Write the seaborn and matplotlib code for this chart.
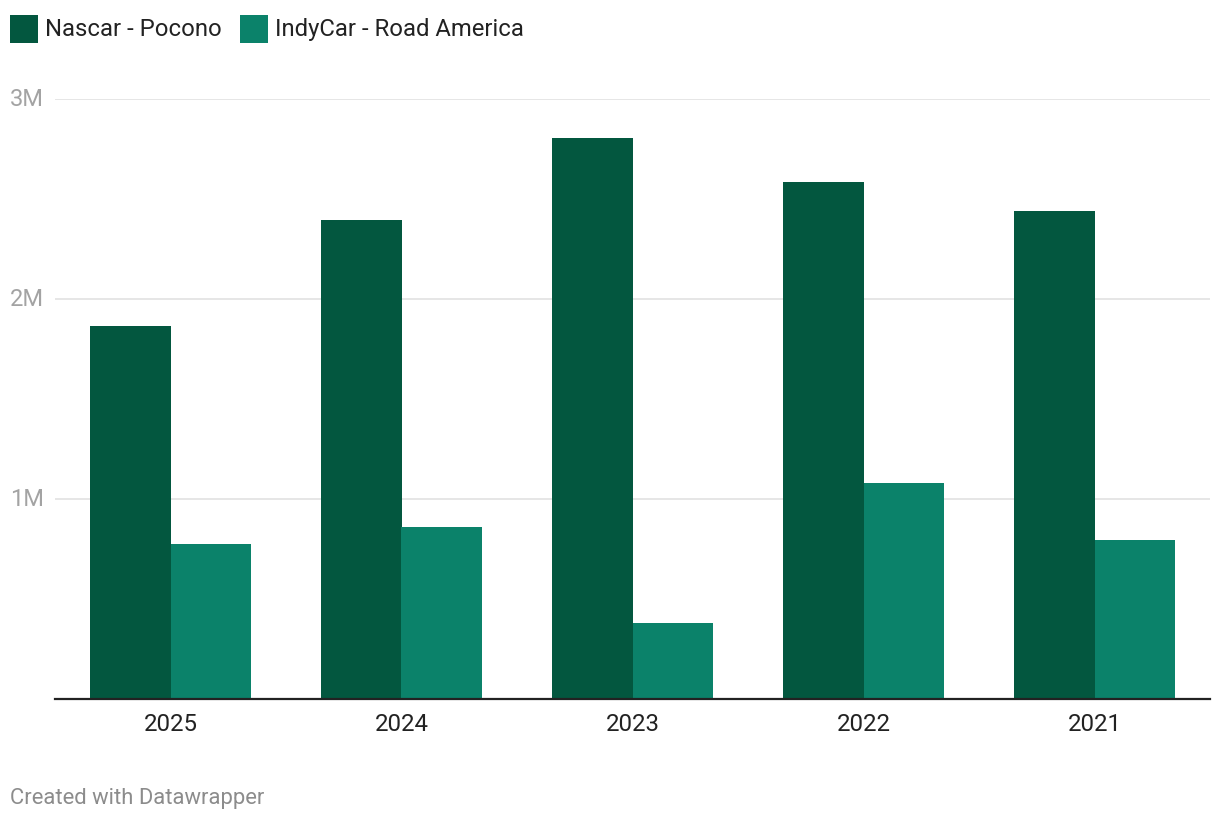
import matplotlib
matplotlib.use("Agg")
import matplotlib.pyplot as plt
from matplotlib.patches import Rectangle
import matplotlib.transforms as mtransforms
import seaborn as sns
import pandas as pd

years = ["2025", "2024", "2023", "2022", "2021"]
nascar = [1.865e6, 2.395e6, 2.805e6, 2.585e6, 2.44e6]
indycar = [0.775e6, 0.86e6, 0.38e6, 1.08e6, 0.795e6]
series_names = ["Nascar - Pocono", "IndyCar - Road America"]
colors = ["#03573F", "#0B826A"]
yticks = [1e6, 2e6, 3e6]
ytick_labels = ["1M", "2M", "3M"]

df = pd.DataFrame({
    "year": years * 2,
    "value": nascar + indycar,
    "series": [series_names[0]] * len(years) + [series_names[1]] * len(years),
})

sns.set_theme(style="white")
plt.rcParams["font.family"] = ["Roboto", "DejaVu Sans"]

fig = plt.figure(figsize=(12.2, 8.2), dpi=100)
W, H = 1220, 820
dy = 1.5
ax = fig.add_axes([55 / W, (H - 698 - dy) / H, (1210 - 55) / W, (698 - 98) / H])

sns.barplot(data=df, x="year", y="value", hue="series", order=years,
            hue_order=series_names, palette=colors, width=0.7, ax=ax,
            saturation=1, legend=False, linewidth=0, edgecolor="none")

ax.set_ylim(0, 3e6)
ax.set_xlim(-0.5, len(years) - 0.5)
for s in ["top", "right", "left"]:
    ax.spines[s].set_visible(False)
ax.spines["bottom"].set_color("#222222")
ax.spines["bottom"].set_linewidth(1.6)
ax.spines["bottom"].set_zorder(5)

ax.set_yticks(yticks)
ax.set_yticklabels([])
ax.tick_params(axis="y", length=0)
ax.yaxis.grid(True, color="#e2e2e2", linewidth=1.2)
ax.set_axisbelow(True)
ax.set_xlabel("")
ax.set_ylabel("")
ax.tick_params(axis="x", length=0, pad=10, labelsize=17.3, labelcolor="#222222")

trans = mtransforms.blended_transform_factory(fig.transFigure, ax.transData)
for v, lab in zip(yticks, ytick_labels):
    ax.text(10 / W, v, lab, transform=trans, ha="left", va="center",
            fontsize=17, color="#a3a3a3")

# legend
def legend_item(x, label, color):
    fig.add_artist(Rectangle((x / W, (H - 42 - dy) / H), 28 / W, 28 / H,
                             transform=fig.transFigure, facecolor=color,
                             edgecolor="none"))
    fig.text((x + 35) / W, (H - 28 - dy) / H, label, ha="left", va="center",
             fontsize=17.2, color="#222222")

legend_item(10, series_names[0], colors[0])
legend_item(240, series_names[1], colors[1])

fig.text(10 / W, (H - 797 - dy) / H, "Created with Datawrapper", ha="left",
         va="center", fontsize=15.8, color="#8c8c8c")

fig.savefig("out.png", dpi=100, facecolor="white")
